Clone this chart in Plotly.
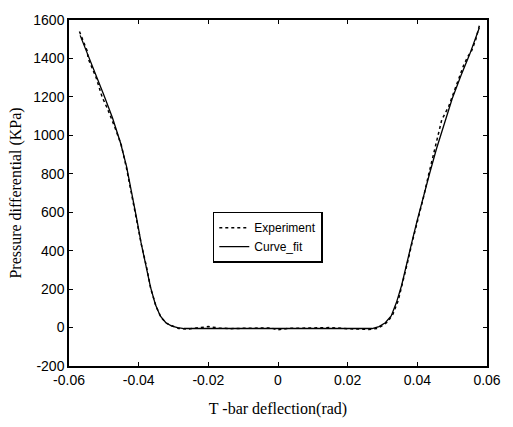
import plotly.graph_objects as go

# Curve fit (smooth)
fit_x = [-0.0568, -0.0548, -0.0525, -0.0500, -0.0475, -0.0452, -0.0435, -0.0419,
         -0.0405, -0.0393, -0.0380, -0.0366, -0.0352, -0.0338, -0.0322, -0.0305, -0.0288,
         -0.0270, -0.020, -0.010, 0.0, 0.010, 0.020, 0.0270,
         0.0290, 0.0308, 0.0325, 0.0340, 0.0355, 0.0370, 0.0385, 0.0400,
         0.0418, 0.0435, 0.0455, 0.0478, 0.0500, 0.0525, 0.0550, 0.0578]
fit_y = [1520, 1430, 1330, 1210, 1090, 960, 840, 700,
         560, 440, 320, 210, 120, 60, 25, 8, 0,
         -5, -5, -5, -5, -5, -5, -5,
         5, 25, 60, 130, 220, 340, 450, 560,
         690, 800, 930, 1060, 1190, 1310, 1420, 1560]

# Experiment (dashed)
exp_x = [-0.0570, -0.0560, -0.0548, -0.0545, -0.0535, -0.0522, -0.0505, -0.0490,
         -0.0470, -0.0450, -0.0435, -0.0420, -0.0405, -0.0392, -0.0378, -0.0365,
         -0.0350, -0.0335, -0.0318, -0.0300, -0.0285, -0.0260, -0.0230, -0.0200,
         -0.0170, -0.0140, -0.0100, -0.0060, -0.0020, 0.0, 0.0030, 0.0070, 0.0110,
         0.0150, 0.0190, 0.0230, 0.0260, 0.0285, 0.0300, 0.0315, 0.0330, 0.0345,
         0.0358, 0.0372, 0.0386, 0.0402, 0.0418, 0.0433, 0.0452, 0.0470, 0.0490,
         0.0505, 0.0520, 0.0532, 0.0545, 0.0556, 0.0568, 0.0578]
exp_y = [1540, 1490, 1440, 1400, 1360, 1300, 1200, 1140,
         1050, 950, 830, 690, 560, 430, 320, 200,
         110, 50, 20, 5, -5, -8, -3, 5,
         -2, -6, -4, -3, -2, -12, -4, -3, -1,
         0, -5, -8, -10, -5, 10, 30, 70, 140,
         230, 340, 450, 560, 680, 800, 940, 1080, 1150,
         1230, 1300, 1360, 1410, 1440, 1500, 1570]

x_ticks = [-0.06, -0.04, -0.02, 0, 0.02, 0.04, 0.06]
x_tick_labels = ["-0.06", "-0.04", "-0.02", "0", "0.02", "0.04", "0.06"]
y_ticks = [-200, 0, 200, 400, 600, 800, 1000, 1200, 1400, 1600]
y_tick_labels = ["-200", "0", "200", "400", "600", "800", "1000", "1200", "1400", "1600"]

fig = go.Figure()
fig.add_trace(go.Scatter(x=exp_x, y=exp_y, mode="lines", name="Experiment",
                         line=dict(color="black", width=1.5, dash="3px,3px")))
fig.add_trace(go.Scatter(x=fit_x, y=fit_y, mode="lines", name="Curve_fit",
                         line=dict(color="black", width=1.3)))

tick_font = dict(family="Liberation Sans, Arial", size=14, color="black")
title_font = dict(family="Liberation Serif, DejaVu Serif, serif", size=16, color="black")

fig.update_layout(
    width=513, height=427,
    margin=dict(l=69, r=14, t=16, b=57),
    plot_bgcolor="white", paper_bgcolor="white",
    showlegend=True,
    legend=dict(x=0.344, y=0.446, xanchor="left", yanchor="top",
                bordercolor="black", borderwidth=1.5, bgcolor="white",
                font=dict(family="Liberation Sans, Arial", size=12, color="black"),
                tracegroupgap=0, itemwidth=30),
)
fig.update_xaxes(range=[-0.06, 0.06], tickvals=x_ticks, ticktext=x_tick_labels,
                 showgrid=False, zeroline=False, showline=True, linecolor="black", linewidth=1.5,
                 mirror="ticks", ticks="inside", ticklen=4, tickcolor="black",
                 tickfont=tick_font,
                 title=dict(text="T -bar deflection(rad)", font=title_font, standoff=16))
fig.update_yaxes(range=[-200, 1600], tickvals=y_ticks, ticktext=y_tick_labels,
                 showgrid=False, zeroline=False, showline=True, linecolor="black", linewidth=1.5,
                 mirror="ticks", ticks="inside", ticklen=4, tickcolor="black",
                 tickfont=tick_font,
                 title=dict(text="Pressure differential (KPa)", font=title_font, standoff=8))

fig.write_html("out.html")
